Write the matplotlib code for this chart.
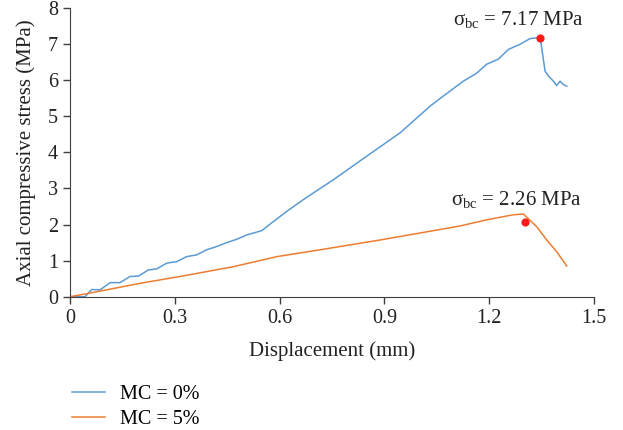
import matplotlib.pyplot as plt

plt.rcParams['font.family'] = ['Liberation Serif', 'DejaVu Serif']
plt.rcParams['mathtext.fontset'] = 'custom'
plt.rcParams['mathtext.rm'] = 'Liberation Serif'
plt.rcParams['mathtext.it'] = 'Liberation Serif:italic'

# MC = 0% curve (displacement mm, stress MPa)
disp_0 = [0, 0.043, 0.062, 0.086, 0.115, 0.143, 0.172, 0.196, 0.224, 0.248,
          0.277, 0.305, 0.334, 0.363, 0.391, 0.42, 0.449, 0.477, 0.506, 0.549,
          0.582, 0.62, 0.668, 0.754, 0.849, 0.945, 1.031, 1.069, 1.126, 1.164,
          1.193, 1.226, 1.255, 1.288, 1.317, 1.346, 1.355, 1.36, 1.37, 1.384,
          1.393, 1.403, 1.412, 1.422]
stress_0 = [0, 0, 0.2, 0.19, 0.39, 0.39, 0.56, 0.57, 0.74, 0.77,
            0.93, 0.97, 1.11, 1.16, 1.30, 1.39, 1.5, 1.59, 1.71, 1.83,
            2.08, 2.36, 2.69, 3.24, 3.89, 4.54, 5.28, 5.56, 5.97, 6.19,
            6.44, 6.58, 6.85, 6.99, 7.15, 7.18, 6.58, 6.25, 6.11, 5.97,
            5.85, 5.97, 5.88, 5.83]

# MC = 5% curve
disp_5 = [0, 0.057, 0.115, 0.2, 0.315, 0.467, 0.592, 0.716, 0.887, 1.117,
          1.193, 1.269, 1.298, 1.336, 1.365, 1.393, 1.422]
stress_5 = [0, 0.10, 0.21, 0.37, 0.56, 0.83, 1.11, 1.30, 1.57, 1.96,
            2.13, 2.27, 2.29, 1.94, 1.57, 1.25, 0.85]

# peak markers
peak_x = [1.346, 1.303]
peak_y = [7.18, 2.06]
peak_labels = [r'$\mathrm{\sigma_{bc}}$ = 7.17 MPa', r'$\mathrm{\sigma_{bc}}$ = 2.26 MPa']
label_pos = [(1.285, 7.69), (1.277, 2.69)]

fig = plt.figure(figsize=(6.23, 4.30), dpi=100)
ax = fig.add_axes([0.1124, 0.31, 0.841, 0.6716])

l0, = ax.plot(disp_0, stress_0, color='#5B9BD5', lw=1.1, label='MC = 0%')
l5, = ax.plot(disp_5, stress_5, color='#ED7D31', lw=1.1, label='MC = 5%')
ax.scatter(peak_x, peak_y, color='#FF1A1A', s=24, zorder=3)

for txt, (tx, ty) in zip(peak_labels, label_pos):
    ax.text(tx, ty, txt, fontsize=15, ha='center', va='center', color='#222222')

ax.set_xlim(0, 1.5)
ax.set_ylim(0, 8)
ax.set_xticks([0, 0.3, 0.6, 0.9, 1.2, 1.5])
ax.set_xticklabels(['0', '0.3', '0.6', '0.9', '1.2', '1.5'])
ax.set_yticks(range(0, 9))
ax.tick_params(labelsize=14.5, length=5, color='#404040', width=1,
               labelcolor='#222222')
ax.spines['top'].set_visible(False)
ax.spines['right'].set_visible(False)
for s in ['left', 'bottom']:
    ax.spines[s].set_color('#404040')

ax.set_xlabel('Displacement (mm)', fontsize=15, labelpad=10, color='#222222')
ax.set_ylabel('Axial compressive stress (MPa)', fontsize=15, labelpad=9,
              color='#222222')

fig.legend(handles=[l0, l5], loc='upper left', bbox_to_anchor=(0.086, 0.148),
           frameon=False, fontsize=14.5, handlelength=1.67, handletextpad=0.75,
           labelspacing=0.3)

fig.savefig('out.png', dpi=100)
